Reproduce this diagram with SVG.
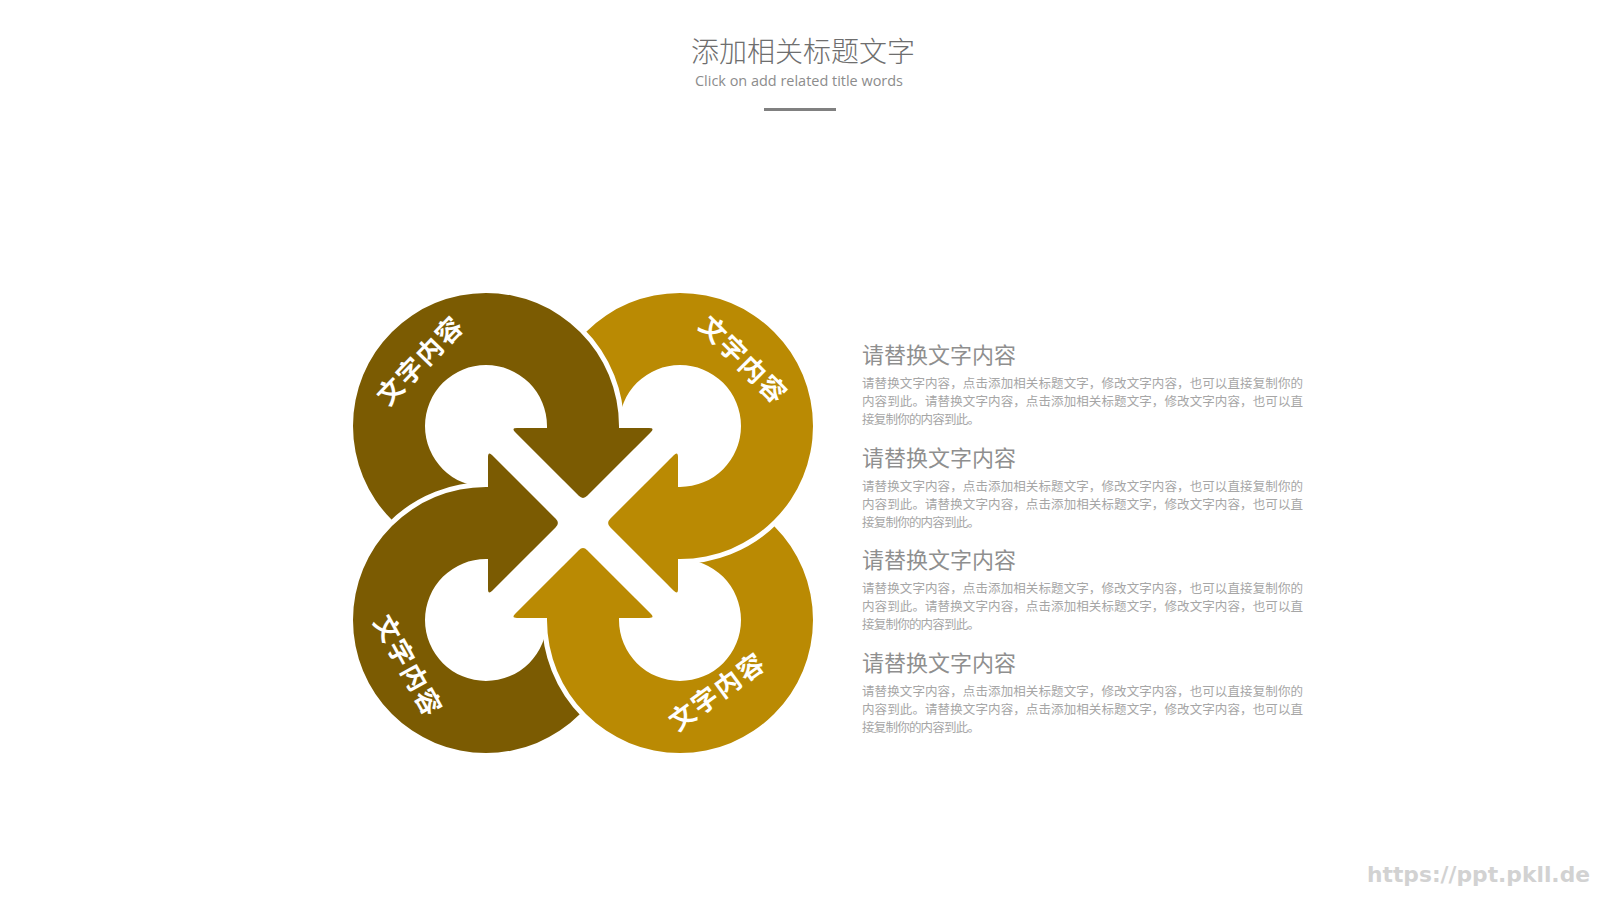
<svg xmlns="http://www.w3.org/2000/svg" xmlns:xlink="http://www.w3.org/1999/xlink" width="1600" height="900" viewBox="0 0 1600 900">
<style>
.dark{fill:#7b5b02}
.gold{fill:#ba8a03}
.shape{stroke:#ffffff;stroke-width:10;paint-order:stroke;stroke-linejoin:round}
.lbl{font-family:"Noto Sans CJK SC","Noto Sans",sans-serif;font-weight:bold;font-size:26px;fill:#ffffff;text-anchor:middle;dominant-baseline:central;letter-spacing:2px}
.hd{font-family:"Noto Sans CJK SC","Noto Sans",sans-serif;font-size:22px;fill:#8f8f8f}
.bd{font-family:"Noto Sans CJK SC","Noto Sans",sans-serif;font-size:12.5px;fill:#a6a6a6}
</style>
<defs>
<path id="arrowShape" d="M486 559 A133 133 0 1 1 619 426 L619 428 L649 428 Q655 428 650.76 432.24 L587.24 495.76 Q583 500 578.76 495.76 L515.24 432.24 Q511 428 517 428 L547 428 L547 426 A61 61 0 1 0 486 487 Z"/>
<clipPath id="trFix"><rect x="668" y="440" width="162" height="160"/></clipPath>
</defs>
<rect width="1600" height="900" fill="#ffffff"/>

<g id="title">
<text x="803" y="62" font-family="'Noto Sans CJK SC','Noto Sans',sans-serif" font-weight="300" font-size="28" fill="#6e6e6e" text-anchor="middle">添加相关标题文字</text>
<text x="695" y="86" font-family="'Open Sans','Liberation Sans',sans-serif" font-size="14" fill="#8c8c8c" textLength="208" lengthAdjust="spacingAndGlyphs">Click on add related title words</text>
<rect x="764" y="108" width="72" height="3" fill="#808080"/>
</g>

<g id="node-tr">
<use xlink:href="#arrowShape" class="shape gold" transform="rotate(90 583 523)"/>
<text class="lbl" transform="translate(745 358.5) rotate(45)">文字内容</text>
</g>
<g id="node-tl">
<use xlink:href="#arrowShape" class="shape dark"/>
<text class="lbl" transform="translate(419 359) rotate(-46)">文字内容</text>
</g>
<g id="node-bl">
<use xlink:href="#arrowShape" class="shape dark" transform="rotate(270 583 523)"/>
<text class="lbl" transform="translate(410 665) rotate(61)">文字内容</text>
</g>
<g id="node-br">
<use xlink:href="#arrowShape" class="shape gold" transform="rotate(180 583 523)"/>
<text class="lbl" transform="translate(716 690) rotate(-36)">文字内容</text>
</g>
<g id="node-tr-overlap" clip-path="url(#trFix)">
<use xlink:href="#arrowShape" class="shape gold" transform="rotate(90 583 523)"/>
</g>

<g id="connectors"></g>

<g id="text-1">
<text class="hd" x="862" y="363">请替换文字内容</text>
<text class="bd" x="862" y="388" textLength="441" lengthAdjust="spacing">请替换文字内容，点击添加相关标题文字，修改文字内容，也可以直接复制你的</text>
<text class="bd" x="862" y="406" textLength="441" lengthAdjust="spacing">内容到此。请替换文字内容，点击添加相关标题文字，修改文字内容，也可以直</text>
<text class="bd" x="862" y="424" textLength="118" lengthAdjust="spacing">接复制你的内容到此。</text>
</g>
<g id="text-2">
<text class="hd" x="862" y="465.5">请替换文字内容</text>
<text class="bd" x="862" y="490.5" textLength="441" lengthAdjust="spacing">请替换文字内容，点击添加相关标题文字，修改文字内容，也可以直接复制你的</text>
<text class="bd" x="862" y="508.5" textLength="441" lengthAdjust="spacing">内容到此。请替换文字内容，点击添加相关标题文字，修改文字内容，也可以直</text>
<text class="bd" x="862" y="526.5" textLength="118" lengthAdjust="spacing">接复制你的内容到此。</text>
</g>
<g id="text-3">
<text class="hd" x="862" y="568">请替换文字内容</text>
<text class="bd" x="862" y="593" textLength="441" lengthAdjust="spacing">请替换文字内容，点击添加相关标题文字，修改文字内容，也可以直接复制你的</text>
<text class="bd" x="862" y="611" textLength="441" lengthAdjust="spacing">内容到此。请替换文字内容，点击添加相关标题文字，修改文字内容，也可以直</text>
<text class="bd" x="862" y="629" textLength="118" lengthAdjust="spacing">接复制你的内容到此。</text>
</g>
<g id="text-4">
<text class="hd" x="862" y="670.5">请替换文字内容</text>
<text class="bd" x="862" y="695.5" textLength="441" lengthAdjust="spacing">请替换文字内容，点击添加相关标题文字，修改文字内容，也可以直接复制你的</text>
<text class="bd" x="862" y="713.5" textLength="441" lengthAdjust="spacing">内容到此。请替换文字内容，点击添加相关标题文字，修改文字内容，也可以直</text>
<text class="bd" x="862" y="731.5" textLength="118" lengthAdjust="spacing">接复制你的内容到此。</text>
</g>

<text id="watermark" x="1367" y="882" font-family="'DejaVu Sans',sans-serif" font-weight="bold" font-size="22" fill="#d2d2d2" textLength="223" lengthAdjust="spacingAndGlyphs">https://ppt.pkll.de</text>
</svg>
